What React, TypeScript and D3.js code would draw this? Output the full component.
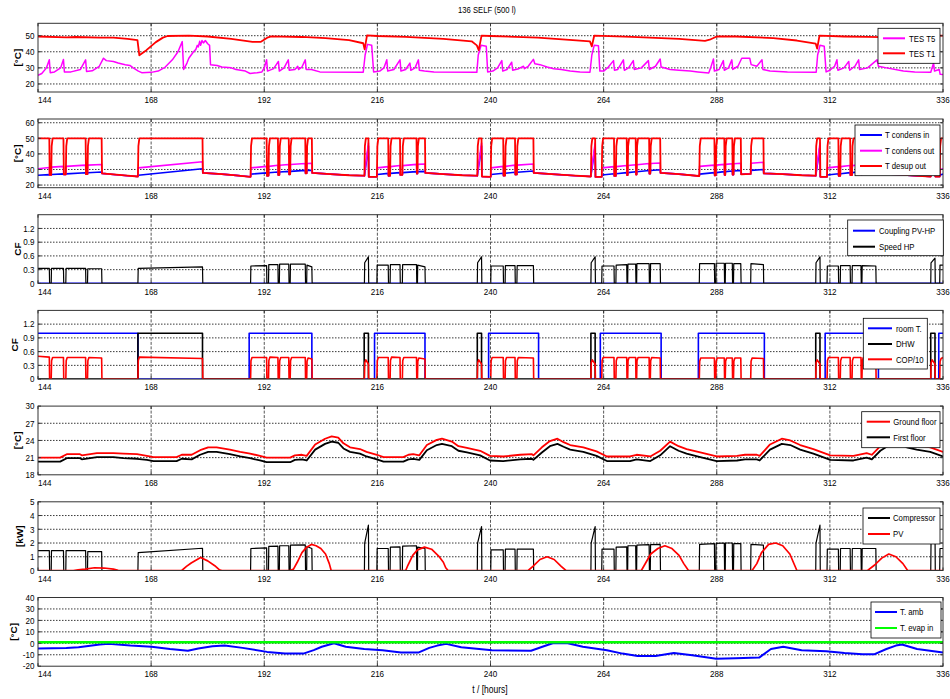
import React from "react";
import * as d3 from "d3";

type Pt = [number, number];

// ---------------- DATA ----------------
const xTicks = [144, 168, 192, 216, 240, 264, 288, 312, 336];
const yTicksP1 = [20, 30, 40, 50];
const yTicksP2 = [20, 30, 40, 50, 60];
const yTicksCF = [0, 0.3, 0.6, 0.9, 1.2];
const yTicksP5 = [18, 21, 24, 27, 30];
const yTicksP6 = [0, 1, 2, 3, 4, 5];
const yTicksP7 = [-20, -10, 0, 10, 20, 30, 40];

const tesT5: Pt[] = [
  [144, 25.3], [144.8, 26.5], [145.8, 30], [146.4, 35], [146.6, 27], [147.5, 27.5], [148.8, 30], [149.4, 35.2],
  [149.6, 27.5], [151, 27.5], [153, 29], [154.1, 35], [154.3, 27.8], [155.5, 28.2], [157, 31], [157.9, 36],
  [158.5, 34.5], [160, 34], [161, 33], [162.5, 32], [163.5, 31.5], [164.2, 30], [165.3, 28], [166, 27],
  [168, 27.2], [169.5, 28], [171, 30.5], [172.5, 35], [173.7, 40], [174.6, 46.3], [174.9, 29], [175.6, 33], [176, 36],
  [176.5, 38], [177, 40], [177.5, 41.5], [177.8, 44], [178, 43], [178.3, 46.5], [178.5, 44], [178.8, 47],
  [179.1, 45.5], [179.5, 47], [180, 45], [180.4, 44], [180.6, 32], [182, 31.5], [183, 30.5], [185, 30],
  [186, 29], [188, 28], [189, 26.5], [190.5, 27], [191.5, 27.5], [192, 30], [192.5, 35], [192.7, 28],
  [194, 29.5], [195, 34], [195.2, 28], [196.2, 30], [197.1, 35], [197.3, 28.5], [198.5, 29], [199.1, 31],
  [199.3, 29], [200, 30.5], [200.7, 35], [200.9, 29], [202, 29], [203.8, 27.5], [213, 27.3], [213.4, 38],
  [213.9, 44.6], [214.8, 44], [215.2, 27.5], [216.5, 28], [217.4, 30], [218, 35], [218.2, 28], [219.5, 29],
  [220.8, 35], [221, 28], [222, 29], [222.9, 33], [223.1, 28.5], [224, 30], [224.7, 35], [224.9, 28.5],
  [226, 28], [228, 27.5], [237.1, 27.2], [237.4, 38], [238, 44], [239.1, 43.5], [239.4, 27.5], [240.5, 28],
  [241.5, 30], [242.4, 34.5], [242.6, 28], [243.5, 29], [244.5, 33.5], [244.7, 28.5], [246, 29.5], [247, 31],
  [247.2, 29.5], [248, 31], [249.1, 35.3], [249.4, 32.5], [250.5, 32], [252, 30.5], [253.4, 29.5], [255, 29],
  [256.9, 28], [259, 27.5], [261.1, 27.3], [261.5, 38], [262, 44], [262.9, 43.8], [263.2, 28], [264, 28],
  [265, 30.5], [266.1, 34.5], [266.3, 28.5], [267, 29], [268.2, 35], [268.4, 28.5], [269.3, 30], [270.3, 34.5],
  [270.5, 29], [272, 30], [273.5, 34.5], [273.7, 29], [275, 31], [276, 35.5], [276.2, 30.5], [278.1, 29],
  [280, 28.5], [282.4, 28], [284, 27.5], [286.3, 26.8], [286.7, 30], [287.3, 35.5], [287.5, 28], [288.5, 29],
  [289.4, 34.5], [289.6, 28.5], [290.5, 30], [291.2, 35], [291.4, 29], [292.5, 31], [293.3, 36], [295, 36],
  [295.3, 32], [296.5, 31], [297.6, 35], [297.8, 29], [299.3, 28], [303, 27.5], [309.1, 27.3], [309.4, 38],
  [309.9, 44], [310.8, 43.5], [311.2, 27.5], [312, 28.5], [313, 31], [313.5, 35], [313.7, 28.5], [315, 30],
  [316, 34], [316.2, 28.5], [317.3, 31], [318.1, 35], [318.3, 29], [320, 30], [322, 35], [322.3, 31],
  [324, 30], [327.6, 28], [330, 27.5], [333.4, 27.3], [334, 33], [334.2, 28], [335.2, 29], [335.4, 26], [336, 25.8],
];

const tesT1: Pt[] = [
  [144, 49.5], [150, 49], [152, 49.2], [157, 48.8], [160, 48.8], [163, 48], [165.1, 47.3], [165.5, 37.8],
  [167, 41], [169, 46], [170.5, 48.8], [171.5, 49.8], [176, 50], [180, 49.5], [185, 48], [189.5, 46.2],
  [191.3, 46.2], [192.8, 49], [193.5, 49.6], [200, 49.2], [205, 48.5], [210, 47.3], [213, 45.3], [213.3, 41.5],
  [213.8, 50.2], [216, 49.8], [222, 49.3], [230, 48], [236, 46.5], [237.1, 44], [237.5, 41], [238.1, 50],
  [240, 49.8], [250, 48.8], [256, 47.5], [261.1, 46.5], [261.5, 43.4], [262, 50], [270, 49.3], [280, 48],
  [285.5, 46.8], [286.5, 47.5], [288, 49.5], [292, 49.5], [300, 48.5], [305, 47], [309, 45], [309.3, 42],
  [309.8, 50], [315, 49.5], [320, 49.3], [326, 49], [330, 49], [333.5, 49], [334, 50], [336, 50],
];

// Heat pump cycles:
// [start, end, speedS, speedE, kwS, kwE, cop10S, cop10E, condInS, condInE, condOutS, condOutE]
const hpCycles: number[][] = [
  [144.0, 146.4, 0.33, 0.33, 1.45, 1.45, 0.50, 0.48, 26.3, 26.7, 30.5, 31.3],
  [146.8, 149.4, 0.33, 0.33, 1.45, 1.45, 0.47, 0.47, 26.8, 27.2, 31.5, 32.0],
  [149.9, 154.1, 0.33, 0.33, 1.45, 1.45, 0.47, 0.47, 27.2, 27.9, 32.0, 32.8],
  [154.5, 157.5, 0.32, 0.32, 1.38, 1.38, 0.47, 0.46, 27.9, 28.4, 32.8, 33.2],
  [165.2, 178.9, 0.33, 0.36, 1.30, 1.62, 0.48, 0.45, 26.3, 30.5, 31.0, 35.0],
  [189.1, 192.5, 0.38, 0.39, 1.60, 1.65, 0.47, 0.47, 27.0, 27.8, 31.0, 32.0],
  [192.9, 194.9, 0.41, 0.41, 1.75, 1.77, 0.48, 0.47, 27.9, 28.4, 32.0, 32.7],
  [195.2, 197.2, 0.42, 0.42, 1.80, 1.80, 0.47, 0.47, 28.4, 28.8, 32.7, 33.2],
  [197.5, 200.7, 0.42, 0.42, 1.85, 1.87, 0.47, 0.47, 28.8, 29.4, 33.2, 33.8],
  [201.0, 202.1, 0.40, 0.36, 1.75, 1.60, 0.46, 0.44, 29.4, 29.5, 33.8, 34.0],
  [213.25, 214.1, 0.45, 0.58, 2.0, 3.3, 0.42, 0.33, 27.0, 45.0, 28.0, 47.0],
  [215.9, 218.3, 0.40, 0.40, 1.60, 1.60, 0.47, 0.47, 26.8, 27.5, 31.0, 31.8],
  [218.7, 220.8, 0.41, 0.41, 1.70, 1.72, 0.48, 0.47, 27.5, 28.0, 31.8, 32.5],
  [221.3, 224.3, 0.41, 0.41, 1.78, 1.80, 0.47, 0.47, 28.0, 28.6, 32.5, 33.3],
  [224.5, 226.1, 0.40, 0.36, 1.70, 1.60, 0.46, 0.44, 28.6, 28.8, 33.3, 33.5],
  [237.2, 238.1, 0.45, 0.58, 2.0, 3.2, 0.42, 0.33, 27.0, 45.0, 28.0, 47.0],
  [240.05, 242.7, 0.38, 0.38, 1.50, 1.50, 0.47, 0.47, 26.8, 27.6, 31.0, 32.0],
  [243.1, 245.2, 0.39, 0.39, 1.55, 1.55, 0.47, 0.47, 27.6, 28.2, 32.0, 32.8],
  [245.6, 249.1, 0.39, 0.39, 1.55, 1.55, 0.47, 0.46, 28.2, 29.0, 32.8, 33.5],
  [261.3, 262.2, 0.45, 0.58, 2.0, 3.2, 0.42, 0.33, 27.0, 45.0, 28.0, 47.0],
  [263.6, 266.2, 0.38, 0.38, 1.55, 1.55, 0.47, 0.47, 26.5, 27.3, 31.0, 31.8],
  [266.6, 268.9, 0.40, 0.41, 1.70, 1.72, 0.47, 0.47, 27.3, 28.0, 31.8, 32.5],
  [269.1, 270.8, 0.42, 0.42, 1.80, 1.80, 0.47, 0.47, 28.0, 28.5, 32.5, 33.0],
  [271.0, 273.65, 0.43, 0.43, 1.85, 1.88, 0.47, 0.47, 28.5, 29.3, 33.0, 33.8],
  [273.9, 276.0, 0.43, 0.43, 1.88, 1.90, 0.47, 0.46, 29.3, 29.8, 33.8, 34.2],
  [284.3, 287.5, 0.43, 0.43, 1.90, 1.95, 0.46, 0.46, 27.0, 28.0, 32.0, 32.8],
  [287.8, 289.6, 0.44, 0.44, 1.97, 2.00, 0.46, 0.46, 28.0, 28.6, 32.8, 33.3],
  [289.8, 291.3, 0.44, 0.44, 2.00, 2.00, 0.46, 0.46, 28.6, 29.0, 33.3, 33.7],
  [291.55, 293.1, 0.43, 0.43, 1.95, 1.95, 0.46, 0.46, 29.0, 29.4, 33.7, 34.0],
  [295.2, 297.9, 0.43, 0.41, 1.90, 1.85, 0.46, 0.45, 29.4, 30.0, 34.0, 34.6],
  [309.0, 309.9, 0.45, 0.58, 2.0, 3.3, 0.42, 0.33, 27.0, 45.0, 28.0, 47.0],
  [311.4, 313.8, 0.38, 0.38, 1.55, 1.55, 0.47, 0.47, 26.5, 27.3, 31.0, 31.8],
  [314.2, 316.3, 0.39, 0.39, 1.60, 1.60, 0.47, 0.47, 27.3, 28.0, 31.8, 32.5],
  [316.7, 318.6, 0.39, 0.39, 1.60, 1.60, 0.47, 0.47, 28.0, 28.5, 32.5, 33.0],
  [318.8, 321.75, 0.39, 0.38, 1.60, 1.60, 0.47, 0.46, 28.5, 29.2, 33.0, 33.6],
  [333.4, 334.3, 0.45, 0.55, 2.0, 3.0, 0.42, 0.33, 27.0, 45.0, 28.0, 47.0],
  [335.3, 336.0, 0.40, 0.40, 1.60, 1.60, 0.45, 0.47, 26.5, 27.0, 30.0, 30.5],
];

const desupOff: Pt[] = [
  [144, 27.0], [146.5, 26.5], [149.5, 26.8], [154.2, 27.0], [157.6, 27.5], [160, 26.8], [163, 26], [165.1, 25.5],
  [179, 27.8], [183, 27], [186, 26.2], [189, 25.3], [202.2, 27.8], [206, 27], [210, 26.3], [213.2, 26],
  [214.2, 25.3], [215.8, 25.3], [226.2, 27.8], [230, 27], [234, 26.3], [237.1, 26], [238.2, 25.5], [240, 25.3],
  [249.2, 27.8], [253, 27], [258, 26], [261.2, 25.5], [262.3, 25.2], [263.5, 25.3], [276.1, 27.8], [280, 27],
  [284.2, 25.8], [298, 27.5], [302, 27], [306, 26.3], [308.9, 26], [310, 25.3], [311.3, 25.3], [321.8, 27.5],
  [326, 26.8], [330, 26], [333.3, 25.5], [336, 25.5],
];

const roomOn: Pt[] = [
  [144, 165.2], [188.8, 202.1], [215.4, 226.1], [239.6, 250.2], [263.3, 276.2], [284.1, 298.1], [311.0, 322.3], [335.1, 336],
];
const dhwOn: Pt[] = [
  [165.2, 178.9], [213.2, 214.1], [237.2, 238.1], [261.3, 262.2], [309.0, 309.9], [333.4, 334.3],
];

const groundFloor: Pt[] = [
  [144, 21.0], [148.7, 21.0], [150.1, 21.6], [152.9, 21.6], [153.3, 21.4], [156.5, 21.8], [160, 21.8], [162.1, 21.7],
  [165, 21.6], [167.1, 21.3], [168.5, 21.1], [173.4, 21.1], [174.5, 21.5], [176.6, 21.5], [178.4, 22.3], [180.1, 22.8],
  [181.9, 22.8], [184.7, 22.4], [186.9, 22.0], [189, 21.7], [191.1, 21.3], [192.5, 21.0], [197.5, 21.0], [198.5, 21.4],
  [200, 21.5], [201, 21.3], [202.8, 23.3], [204.9, 24.3], [206.3, 24.7], [207.7, 24.5], [208.8, 23.5], [210.2, 22.8],
  [212.3, 22.5], [213.7, 22.0], [215.9, 21.5], [217.3, 21.1], [221.5, 21.1], [222.6, 21.5], [223.6, 21.6], [224.9, 21.4],
  [226.5, 23.2], [228.6, 24.1], [229.7, 24.3], [231.8, 23.8], [233.2, 23.0], [235, 22.7], [237.8, 22.2], [239.9, 21.3],
  [242.7, 21.2], [246.3, 21.5], [248.8, 21.6], [249.1, 21.4], [250.9, 22.8], [252.6, 23.9], [254.2, 24.3], [255.5, 23.7],
  [256.9, 23.2], [259.7, 22.8], [262.5, 22.1], [264.7, 21.2], [269.6, 21.2], [271, 21.5], [273.9, 21.2], [276, 22.2],
  [278.1, 23.8], [279.9, 23.0], [281.6, 22.5], [284.5, 21.9], [288, 21.2], [292.3, 21.3], [294, 21.5], [296.5, 21.5],
  [297.1, 21.3], [299.3, 23.3], [301.8, 24.3], [303.6, 24.0], [305.7, 23.2], [308.5, 22.5], [312.1, 21.4], [317, 21.3],
  [319.8, 21.8], [320.9, 21.5], [322.7, 23.0], [324.8, 24.2], [326.9, 24.3], [328.3, 23.6], [330.4, 23.2], [333.3, 22.8],
  [336, 22.0],
];

const firstFloor: Pt[] = [
  [144, 20.3], [148.7, 20.3], [150.1, 20.9], [152.9, 20.9], [153.3, 20.7], [156.5, 21.1], [160, 21.1], [162.1, 20.9],
  [165, 20.8], [167.1, 20.6], [168.5, 20.4], [173.4, 20.4], [174.5, 20.8], [176.6, 20.7], [178.4, 21.5], [180.1, 22.0],
  [181.9, 22.0], [184.7, 21.6], [186.9, 21.2], [189, 20.9], [191.1, 20.5], [192.5, 20.2], [197.5, 20.2], [198.5, 20.6],
  [200, 20.7], [201, 20.5], [202.8, 22.4], [204.9, 23.4], [206.3, 23.8], [207.7, 23.6], [208.8, 22.6], [210.2, 22.0],
  [212.3, 21.7], [213.7, 21.2], [215.9, 20.7], [217.3, 20.3], [221.5, 20.3], [222.6, 20.7], [223.6, 20.8], [224.9, 20.6],
  [226.5, 22.3], [228.6, 23.2], [229.7, 23.4], [231.8, 23.0], [233.2, 22.2], [235, 21.9], [237.8, 21.4], [239.9, 20.5],
  [242.7, 20.4], [246.3, 20.7], [248.8, 20.8], [249.1, 20.6], [250.9, 21.9], [252.6, 23.0], [254.2, 23.4], [255.5, 22.9],
  [256.9, 22.4], [259.7, 22.0], [262.5, 21.3], [264.7, 20.4], [269.6, 20.4], [271, 20.7], [273.9, 20.4], [276, 21.4],
  [278.1, 23.0], [279.9, 22.2], [281.6, 21.7], [284.5, 21.1], [288, 20.4], [292.3, 20.5], [294, 20.7], [296.5, 20.7],
  [297.1, 20.5], [299.3, 22.4], [301.8, 23.4], [303.6, 23.2], [305.7, 22.4], [308.5, 21.7], [312.1, 20.6], [317, 20.5],
  [319.8, 21.0], [320.9, 20.7], [322.7, 22.2], [324.8, 23.3], [326.9, 23.4], [328.3, 22.8], [330.4, 22.4], [333.3, 22.0],
  [336, 21.2],
];

const pvPower: Pt[] = [
  [144, 0], [151.5, 0], [152.5, 0.05], [154, 0.1], [156, 0.2], [158, 0.18], [160, 0.1], [161, 0.02], [162, 0],
  [174.5, 0], [175.5, 0.3], [176.5, 0.55], [178.5, 0.95], [180, 0.7], [181.5, 0.35], [182.5, 0.05], [183, 0],
  [197.5, 0], [198.2, 0.1], [199, 0.6], [200, 1.3], [201, 1.7], [202, 1.9], [203, 1.8], [204, 1.6], [205, 1.2], [205.8, 0.5], [206.2, 0],
  [222, 0], [222.5, 0.4], [223.5, 1.1], [224.5, 1.5], [226, 1.7], [227.5, 1.55], [229, 1.05], [230, 0.6], [230.5, 0.2], [231, 0],
  [248, 0], [249, 0.3], [250.5, 0.8], [252, 1.0], [253.5, 0.8], [255, 0.3], [256, 0],
  [272, 0], [273, 0.6], [274, 1.2], [275.5, 1.6], [277, 1.8], [278.5, 1.6], [280, 1.1], [281, 0.5], [282, 0],
  [295.5, 0], [296.5, 0.5], [297.5, 1.3], [299, 1.9], [300.5, 2.0], [302, 1.8], [303.5, 1.2], [304.5, 0.4], [305, 0],
  [320, 0], [321.5, 0.4], [323, 0.9], [324.5, 1.2], [326, 1.0], [327.5, 0.5], [328.5, 0], [336, 0],
];

const tAmb: Pt[] = [
  [144, -4.5], [150, -4], [152.6, -3.5], [157.1, -1], [159, -0.5], [163.6, -2], [168.1, -3], [172, -5], [175.8, -6.5],
  [178, -4.5], [181, -2.5], [183.6, -2], [187.4, -4], [192.6, -7.5], [196.4, -9], [200.3, -9], [202.5, -6], [204.2, -3],
  [206.8, 0], [209.3, -3], [213.2, -5], [217.1, -6], [221, -8], [224.8, -8], [227, -4], [228.7, -2], [230.6, -0.5],
  [233.8, -3.5], [240.3, -6], [248.6, -6.5], [251, -3], [253.2, 0], [256.4, 0], [259.6, -3], [264.7, -6], [268, -9],
  [271.2, -11], [275, -11], [278.9, -8.5], [282.8, -10.5], [287.9, -13.5], [292, -13], [297, -12.5], [299.5, -5],
  [302.1, -3], [306, -6], [311.2, -7], [315.1, -8.5], [318.9, -9.5], [321.5, -9.5], [324, -5], [326, -2], [327.3, -1],
  [330.5, -5], [336, -8],
];
const tEvapIn: Pt[] = [[144, 1], [336, 1]];

// ---------------- BUILDERS ----------------
const T_MIN = 144, T_MAX = 336;

function cycleLine(iS: number, iE: number, off: (t: number) => number, offPts: Pt[], round = false): Pt[] {
  const pts: Pt[] = [];
  const ranges: Pt[] = [];
  for (const c of hpCycles) {
    const s = c[0], e = c[1], a = c[iS], b = c[iE];
    const eEnd = Math.min(e + 0.06, T_MAX);
    ranges.push([s, eEnd]);
    if (s > T_MIN) {
      const o = off(s);
      pts.push([s, o]);
      if (round) {
        pts.push([s + 0.08, o + (a - o) * 0.85]);
        pts.push([s + 0.3, a]);
      } else pts.push([s + 0.06, a]);
    } else pts.push([T_MIN, a]);
    pts.push([e, b]);
    if (e < T_MAX) pts.push([eEnd, off(eEnd)]);
  }
  for (const p of offPts) {
    if (!ranges.some(([s, e]) => p[0] >= s && p[0] <= e)) pts.push(p);
  }
  pts.sort((p, q) => p[0] - q[0]);
  return pts;
}

function stepLine(iv: Pt[], hi: number): Pt[] {
  const pts: Pt[] = [];
  if (iv[0][0] > T_MIN) pts.push([T_MIN, 0]);
  for (const [s, e] of iv) {
    if (s > T_MIN) pts.push([s, 0]);
    pts.push([s, hi], [e, hi]);
    if (e < T_MAX) pts.push([e, 0]);
  }
  if (iv[iv.length - 1][1] < T_MAX) pts.push([T_MAX, 0]);
  return pts;
}

const offInterp = d3.scaleLinear().domain(desupOff.map((d) => d[0])).range(desupOff.map((d) => d[1])).clamp(true);
const zero = () => 0;
const zeroPts: Pt[] = [[T_MIN, 0], [T_MAX, 0]];

const speedHP = cycleLine(2, 3, zero, zeroPts);
const compressor = cycleLine(4, 5, zero, zeroPts);
const cop10 = cycleLine(6, 7, zero, zeroPts, true);
const condIn = cycleLine(8, 9, (t) => offInterp(t), desupOff);
const condOut = cycleLine(10, 11, (t) => offInterp(t), desupOff);
const desupOut = (() => {
  const pts: Pt[] = [];
  const ranges: Pt[] = [];
  for (const r of hpCycles) {
    const s = r[0], e = r[1];
    const eEnd = Math.min(e + 0.08, T_MAX);
    ranges.push([s, eEnd]);
    if (s > T_MIN) {
      const o = offInterp(s);
      pts.push([s, o], [s + 0.1, 45], [s + 0.3, 50]);
    } else pts.push([T_MIN, 50]);
    pts.push([e, 50]);
    if (e < T_MAX) pts.push([eEnd, offInterp(eEnd)]);
  }
  for (const p of desupOff) if (!ranges.some(([s, e]) => p[0] >= s && p[0] <= e)) pts.push(p);
  pts.sort((p, q) => p[0] - q[0]);
  return pts;
})();
const couplingPV: Pt[] = [[T_MIN, 0], [T_MAX, 0]];
const roomT = stepLine(roomOn, 1);
const dhw = stepLine(dhwOn, 1);

// ---------------- LAYOUT ----------------
const X0 = 38, X1 = 943;
const TOP0 = 23.3, STEP = 95.7, PH = 68.7;
const FONT = "'Liberation Sans', Arial, Helvetica, sans-serif";

type Series = { pts: Pt[]; color: string; w: number };
type Legend = { x: number; y: number; w: number; h: number; line: [number, number]; tx: number; items: { label: string; color: string; y: number }[] };
type Panel = { domain: [number, number]; ticks: number[]; ylabel: string; ylx: number; series: Series[]; legend: Legend };

const panels: Panel[] = [
  {
    domain: [15, 57.7], ticks: yTicksP1, ylabel: "[°C]", ylx: 18,
    series: [{ pts: tesT5, color: "#ff00ff", w: 1.5 }, { pts: tesT1, color: "#ff0000", w: 1.8 }],
    legend: { x: 878, y: 28.3, w: 62, h: 35, line: [883, 905], tx: 909, items: [{ label: "TES T5", color: "#ff00ff", y: 38.3 }, { label: "TES T1", color: "#ff0000", y: 53.3 }] },
  },
  {
    domain: [18.3, 62.4], ticks: yTicksP2, ylabel: "[°C]", ylx: 18,
    series: [{ pts: condIn, color: "#0000ff", w: 1.6 }, { pts: condOut, color: "#ff00ff", w: 1.6 }, { pts: desupOut, color: "#ff0000", w: 1.8 }],
    legend: { x: 855, y: 125, w: 85, h: 50.7, line: [860, 882], tx: 885, items: [{ label: "T condens in", color: "#0000ff", y: 135 }, { label: "T condens out", color: "#ff00ff", y: 150.7 }, { label: "T desup out", color: "#ff0000", y: 166 }] },
  },
  {
    domain: [0, 1.5], ticks: yTicksCF, ylabel: "CF", ylx: 18,
    series: [{ pts: couplingPV, color: "#0000ff", w: 2 }, { pts: speedHP, color: "#000000", w: 1.2 }],
    legend: { x: 847.7, y: 220, w: 95.6, h: 35.7, line: [853, 875], tx: 879, items: [{ label: "Coupling PV-HP", color: "#0000ff", y: 230.7 }, { label: "Speed HP", color: "#000000", y: 246.7 }] },
  },
  {
    domain: [0, 1.5], ticks: yTicksCF, ylabel: "CF", ylx: 15,
    series: [{ pts: roomT, color: "#0000ff", w: 1.6 }, { pts: dhw, color: "#000000", w: 1.6 }, { pts: cop10, color: "#ff0000", w: 1.6 }],
    legend: { x: 863.3, y: 318.3, w: 64, h: 50.7, line: [868, 892], tx: 896, items: [{ label: "room T.", color: "#0000ff", y: 328.3 }, { label: "DHW", color: "#000000", y: 344 }, { label: "COP/10", color: "#ff0000", y: 359.3 }] },
  },
  {
    domain: [18, 30], ticks: yTicksP5, ylabel: "[°C]", ylx: 18,
    series: [{ pts: groundFloor, color: "#ff0000", w: 1.8 }, { pts: firstFloor, color: "#000000", w: 1.8 }],
    legend: { x: 861.7, y: 411.7, w: 78.3, h: 36, line: [866.7, 890], tx: 893.3, items: [{ label: "Ground floor", color: "#ff0000", y: 421.7 }, { label: "First floor", color: "#000000", y: 437.3 }] },
  },
  {
    domain: [0, 5], ticks: yTicksP6, ylabel: "[kW]", ylx: 20,
    series: [{ pts: compressor, color: "#000000", w: 1.2 }, { pts: pvPower, color: "#ff0000", w: 1.7 }],
    legend: { x: 863, y: 508, w: 77, h: 36, line: [868, 890], tx: 893, items: [{ label: "Compressor", color: "#000000", y: 518 }, { label: "PV", color: "#ff0000", y: 534 }] },
  },
  {
    domain: [-20, 40], ticks: yTicksP7, ylabel: "[°C]", ylx: 14,
    series: [{ pts: tAmb, color: "#0000ff", w: 2 }, { pts: tEvapIn, color: "#00ff00", w: 2.5 }],
    legend: { x: 871, y: 602, w: 70, h: 36, line: [875, 897], tx: 900, items: [{ label: "T. amb", color: "#0000ff", y: 612 }, { label: "T. evap in", color: "#00ff00", y: 628 }] },
  },
];

function HText(props: { x: number; y: number; anchor?: string; size?: number; bold?: boolean; sx?: number; children: React.ReactNode }) {
  const { x, y, anchor = "start", size = 9.5, bold = false, sx = 0.85, children } = props;
  return (
    <text transform={`translate(${x},${y}) scale(${sx},1)`} textAnchor={anchor as any} dominantBaseline="central"
      fontSize={size} fontWeight={bold ? "bold" : "normal"} fontFamily={FONT} fill="#000">{children}</text>
  );
}

export default function App() {
  const x = d3.scaleLinear().domain([T_MIN, T_MAX]).range([X0, X1]);
  return (
    <svg width={950} height={699} viewBox="0 0 950 699" style={{ position: "absolute", left: 0, top: 0, background: "#fff" }}>
      <rect x={0} y={0} width={950} height={699} fill="#fff" />
      <HText x={487} y={10} anchor="middle" size={9}>136 SELF (500 l)</HText>
      {panels.map((p, i) => {
        const top = TOP0 + STEP * i;
        const bottom = top + PH;
        const y = d3.scaleLinear().domain(p.domain).range([bottom, top]);
        const line = d3.line<Pt>().x((d) => x(d[0])).y((d) => y(d[1]));
        return (
          <g key={i}>
            <defs>
              <clipPath id={`clip${i}`}>
                <rect x={X0} y={top} width={X1 - X0} height={PH} />
              </clipPath>
            </defs>
            {xTicks.slice(1, -1).map((t) => (
              <line key={`vx${t}`} x1={x(t)} x2={x(t)} y1={top} y2={bottom} stroke="#444" strokeWidth={0.9} strokeDasharray="3,1.5" />
            ))}
            {p.ticks.filter((v) => y(v) > top + 0.5 && y(v) < bottom - 0.5).map((v) => (
              <line key={`hy${v}`} x1={X0} x2={X1} y1={y(v)} y2={y(v)} stroke="#222" strokeWidth={0.9} strokeDasharray="1.5,1.5" />
            ))}
            <g clipPath={`url(#clip${i})`}>
              {p.series.map((s, k) => (
                <path key={k} d={line(s.pts) || ""} fill="none" stroke={s.color} strokeWidth={s.w} strokeLinejoin="round" />
              ))}
            </g>
            <rect x={X0} y={top} width={X1 - X0} height={PH} fill="none" stroke="#333" strokeWidth={1} />
            {xTicks.map((t) => (
              <g key={`xt${t}`}>
                <line x1={x(t)} x2={x(t)} y1={bottom} y2={bottom - 3} stroke="#333" />
                <line x1={x(t)} x2={x(t)} y1={top} y2={top + 3} stroke="#333" />
                <HText x={t === T_MIN ? X0 : x(t)} y={bottom + 8} anchor={t === T_MIN ? "start" : "middle"}>{t}</HText>
              </g>
            ))}
            {p.ticks.map((v) => (
              <g key={`yt${v}`}>
                <line x1={X0} x2={X0 + 3} y1={y(v)} y2={y(v)} stroke="#333" />
                <line x1={X1} x2={X1 - 3} y1={y(v)} y2={y(v)} stroke="#333" />
                <HText x={34.5} y={y(v)} anchor="end">{String(v)}</HText>
              </g>
            ))}
            <text transform={`translate(${p.ylx},${(top + bottom) / 2}) rotate(-90) scale(1,0.85)`} textAnchor="middle" dominantBaseline="central"
              fontSize={10} fontWeight="bold" fontFamily={FONT}>{p.ylabel}</text>
            <rect x={p.legend.x} y={p.legend.y} width={p.legend.w} height={p.legend.h} fill="#fff" stroke="#000" strokeWidth={0.8} />
            {p.legend.items.map((it) => (
              <g key={it.label}>
                <line x1={p.legend.line[0]} x2={p.legend.line[1]} y1={it.y} y2={it.y} stroke={it.color} strokeWidth={2} />
                <HText x={p.legend.tx} y={it.y} size={9.5} sx={0.82}>{it.label}</HText>
              </g>
            ))}
          </g>
        );
      })}
      <HText x={490} y={690} anchor="middle" size={10}>t / [hours]</HText>
    </svg>
  );
}
